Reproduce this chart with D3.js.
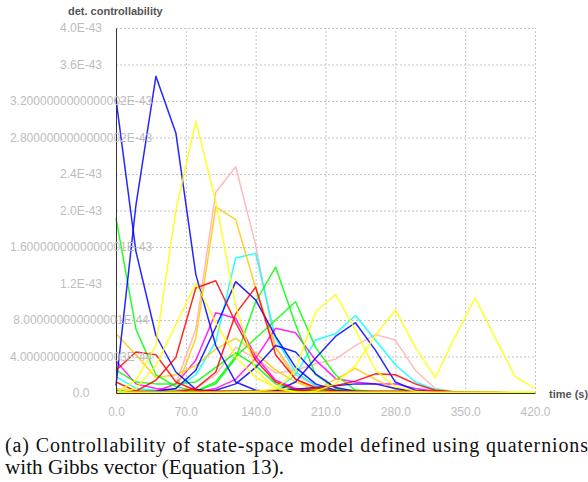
<!DOCTYPE html>
<html>
<head>
<meta charset="utf-8">
<script src="https://cdn.jsdelivr.net/npm/d3@7"></script>
<style>
  html, body { margin: 0; padding: 0; background: #fff; }
  svg { display: block; }
</style>
</head>
<body>
<svg id="chart" width="588" height="482"></svg>
<script>
// ---- data (values in units of 1E-43) ----
const times = [0,20,40,60,80,100,120,140,160,180,200,220,240,260,280,300,320,340,360,380,400,420];

const yTicks = [0,0.4,0.8,1.2,1.6,2.0,2.4,2.8,3.2,3.6,4.0];
const yTickLabels = ["0.0","4.0000000000000003E-44","8.000000000000001E-44","1.2E-43","1.6000000000000001E-43","2.0E-43","2.4E-43","2.8000000000000002E-43","3.2000000000000002E-43","3.6E-43","4.0E-43"];
const xTicks = [0,70,140,210,280,350,420];
const xTickLabels = ["0.0","70.0","140.0","210.0","280.0","350.0","420.0"];

const blueA    = [3.22,1.55,0.63,0.23,0.04,0.01,0,0,0,0,0,0,0,0,0,0,0,0,0,0,0,0];
const blueB    = [0.08,2.06,3.47,2.85,1.30,0.52,0.12,0.03,0.01,0,0,0,0,0,0,0,0,0,0,0,0,0];
const blueC    = [0.01,0.01,0.02,0.05,0.25,0.72,1.22,1.02,0.62,0.28,0.10,0.03,0.01,0,0,0,0,0,0,0,0,0];
const blueD    = [0,0,0,0,0,0,0,0.01,0.02,0.12,0.38,0.62,0.77,0.47,0.12,0.03,0.01,0,0,0,0,0];
const blueE    = [0,0,0,0,0.01,0.03,0.10,0.28,0.52,0.45,0.21,0.06,0.02,0.01,0,0,0,0,0,0,0,0];
const blueF    = [0.02,0.01,0.01,0.01,0.01,0.01,0.02,0.02,0.03,0.04,0.06,0.08,0.10,0.10,0.05,0.02,0.01,0,0,0,0,0];

const yellowA  = [0,0.14,0.52,2.00,2.98,2.10,0.95,0.25,0.05,0.01,0,0,0,0,0,0,0,0,0,0,0,0];
const yellowB  = [0,0.05,0.30,0.75,1.20,0.77,0.40,0.17,0.06,0.01,0,0,0,0,0,0,0,0,0,0,0,0];
const yellowC  = [0,0,0,0,0,0,0.01,0.02,0.04,0.25,0.89,1.08,0.69,0.25,0.07,0.02,0,0,0,0,0,0];
const yellowD  = [0,0,0,0,0,0,0,0,0,0,0.02,0.10,0.30,0.63,0.91,0.50,0.17,0.62,1.04,0.61,0.18,0.05];
const yellowE  = [0.01,0.01,0.01,0.01,0.01,0.01,0.01,0.01,0.01,0.01,0.01,0.01,0.01,0.01,0.01,0.01,0.01,0.01,0.01,0.01,0.01,0.01];

const pinkA    = [0,0,0.02,0.10,0.70,2.20,2.48,1.62,0.50,0.20,0.08,0.02,0,0,0,0,0,0,0,0,0,0];
const pinkB    = [0.05,0.03,0.02,0.03,0.05,0.20,0.50,0.38,0.22,0.25,0.32,0.37,0.52,0.64,0.58,0.25,0.05,0.01,0,0,0,0];

const orangeA  = [0,0,0.01,0.03,0.60,2.04,1.90,1.15,0.50,0.15,0.04,0.01,0,0,0,0,0,0,0,0,0,0];
const orangeB  = [0.65,0.42,0.17,0.20,0.30,0.48,0.60,0.44,0.25,0.12,0.04,0.01,0,0,0,0,0,0,0,0,0,0];
const orangeC  = [0,0,0,0,0,0,0,0,0,0.01,0.03,0.15,0.27,0.15,0.04,0.01,0,0,0,0,0,0];

const redA     = [0,0.02,0.14,0.39,1.15,1.23,0.77,0.36,0.12,0.04,0.01,0,0,0,0,0,0,0,0,0,0,0];
const redB     = [0,0,0,0.01,0.05,0.23,0.87,1.16,0.42,0.15,0.06,0.02,0,0,0,0,0,0,0,0,0,0];
const redC     = [0.25,0.45,0.42,0.12,0.03,0.01,0,0,0,0,0,0,0,0,0,0,0,0,0,0,0,0];
const redD     = [0,0,0,0,0,0,0,0,0.01,0.02,0.05,0.08,0.13,0.21,0.20,0.10,0.03,0.01,0,0,0,0];
const redE     = [0.12,0.02,0.01,0.01,0.02,0.02,0.02,0.02,0.02,0.02,0.02,0.02,0.02,0.02,0.02,0.02,0.02,0.01,0.01,0.01,0,0];

const greenA   = [1.92,0.70,0.20,0.07,0.02,0.01,0,0,0,0,0,0,0,0,0,0,0,0,0,0,0,0];
const greenB   = [0,0,0,0,0.02,0.10,0.38,1.00,1.38,0.75,0.20,0.05,0.01,0,0,0,0,0,0,0,0,0];
const greenC   = [0,0,0,0,0.02,0.12,0.40,0.60,0.80,1.00,0.50,0.20,0.03,0.01,0,0,0,0,0,0,0,0];
const greenD   = [0.25,0.12,0.10,0.10,0.12,0.28,0.44,0.30,0.10,0.03,0.01,0,0,0,0,0,0,0,0,0,0,0];
const greenE   = [0.03,0.02,0.02,0.02,0.02,0.02,0.02,0.02,0.03,0.03,0.03,0.03,0.03,0.02,0.02,0.02,0.01,0.01,0.01,0,0,0];

const cyanA    = [0,0,0.01,0.05,0.20,0.56,1.48,1.53,0.60,0.23,0.08,0.02,0,0,0,0,0,0,0,0,0,0];
const cyanB    = [0,0,0,0,0,0,0,0.01,0.03,0.20,0.58,0.65,0.85,0.58,0.31,0.12,0.04,0.01,0,0,0,0];
const cyanC    = [0.18,0.05,0.03,0.02,0.02,0.01,0.01,0,0,0,0,0,0,0,0,0,0,0,0,0,0,0];

const magentaA = [0,0,0.02,0.10,0.36,0.88,0.82,0.40,0.14,0.05,0.01,0,0,0,0,0,0,0,0,0,0,0];
const magentaB = [0,0,0,0,0.01,0.05,0.15,0.38,0.71,0.66,0.36,0.16,0.12,0.10,0.10,0.05,0.02,0.01,0,0,0,0];
const magentaC = [0.35,0.10,0.05,0.03,0.02,0.02,0.01,0.01,0,0,0,0,0,0,0,0,0,0,0,0,0,0];

const seriesList = [
  ["#ffafaf", pinkB], ["#ffafaf", pinkA],
  ["#00ffff", cyanC], ["#00ffff", cyanB], ["#00ffff", cyanA],
  ["#ff00ff", magentaC], ["#ff00ff", magentaB], ["#ff00ff", magentaA],
  ["#ffc800", orangeC], ["#ffc800", orangeB], ["#ffc800", orangeA],
  ["#00ff00", greenE], ["#00ff00", greenD], ["#00ff00", greenC], ["#00ff00", greenB], ["#00ff00", greenA],
  ["#0000ff", blueF], ["#0000ff", blueE], ["#0000ff", blueD], ["#0000ff", blueC], ["#0000ff", blueB], ["#0000ff", blueA],
  ["#ff0000", redE], ["#ff0000", redD], ["#ff0000", redC], ["#ff0000", redB], ["#ff0000", redA],
  ["#ffff00", yellowD], ["#ffff00", yellowC], ["#ffff00", yellowB], ["#ffff00", yellowA], ["#ffff00", yellowE]
];

// ---- layout ----
const L = 116, R = 535, T = 28, B = 393;
const svg = d3.select("#chart");
svg.append("rect").attr("width", 588).attr("height", 482).attr("fill", "#fff");

const x = d3.scaleLinear().domain([0, 420]).range([L, R]);
const y = d3.scaleLinear().domain([0, 4.0]).range([B, T]);

// grid
const gridX = svg.append("g").attr("transform", `translate(0,${B})`)
  .call(d3.axisBottom(x).tickValues(xTicks.slice(1)).tickSize(-(B - T)).tickFormat(""));
gridX.select(".domain").remove();
gridX.selectAll("line").attr("stroke", "#c4c4c4").attr("stroke-dasharray", "2,2");

const gridY = svg.append("g").attr("transform", `translate(${L},0)`)
  .call(d3.axisLeft(y).tickValues(yTicks.slice(1)).tickSize(-(R - L)).tickFormat(""));
gridY.select(".domain").remove();
gridY.selectAll("line").attr("stroke", "#c4c4c4").attr("stroke-dasharray", "2,2");

// lines
const line = d3.line().x((d, i) => x(times[i])).y(d => y(d));
const plot = svg.append("g");
seriesList.forEach(([color, vals]) => {
  plot.append("path").datum(vals)
    .attr("d", line)
    .attr("fill", "none")
    .attr("stroke", color)
    .attr("stroke-width", 1.5)
    .attr("stroke-linejoin", "round")
    .attr("stroke-opacity", 0.85);
});

// axes
const yAxis = svg.append("g").attr("transform", `translate(${L},0)`)
  .call(d3.axisLeft(y).tickValues(yTicks).tickSize(0).tickFormat((d, i) => yTickLabels[i]));
yAxis.select(".domain").attr("stroke", "#333");
yAxis.selectAll("text")
  .attr("x", 81 - L).attr("text-anchor", "middle")
  .attr("fill", "#bdbdbd").attr("font-family", "'Liberation Sans', Arial, sans-serif").attr("font-size", "12px");

const xAxis = svg.append("g").attr("transform", `translate(0,${B})`)
  .call(d3.axisBottom(x).tickValues(xTicks).tickSize(0).tickFormat((d, i) => xTickLabels[i]));
xAxis.select(".domain").attr("stroke", "#333");
xAxis.selectAll("text")
  .attr("y", 19).attr("dy", "0.35em")
  .attr("fill", "#bdbdbd").attr("font-family", "'Liberation Sans', Arial, sans-serif").attr("font-size", "12px");

// axis titles
svg.append("text").attr("x", 68).attr("y", 15)
  .text("det. controllability")
  .attr("fill", "#555").attr("font-family", "'Liberation Sans', Arial, sans-serif")
  .attr("font-size", "11px").attr("font-weight", "bold");
svg.append("text").attr("x", 549).attr("y", 398)
  .text("time (s)")
  .attr("fill", "#555").attr("font-family", "'Liberation Sans', Arial, sans-serif")
  .attr("font-size", "11px").attr("font-weight", "bold");

// caption
const capFont = "Liberation Serif, Times New Roman, Times, DejaVu Serif, serif";
svg.append("text").attr("x", 5).attr("y", 452)
  .attr("textLength", 583).attr("lengthAdjust", "spacing")
  .attr("fill", "#111").attr("font-family", capFont).attr("font-size", "20px")
  .style("font-family", capFont)
  .text("(a) Controllability of state-space model defined using quaternions");
svg.append("text").attr("x", 5).attr("y", 474)
  .attr("textLength", 279).attr("lengthAdjust", "spacingAndGlyphs")
  .attr("fill", "#111").attr("font-family", capFont).attr("font-size", "20px")
  .style("font-family", capFont)
  .text("with Gibbs vector (Equation 13).");
</script>
</body>
</html>
